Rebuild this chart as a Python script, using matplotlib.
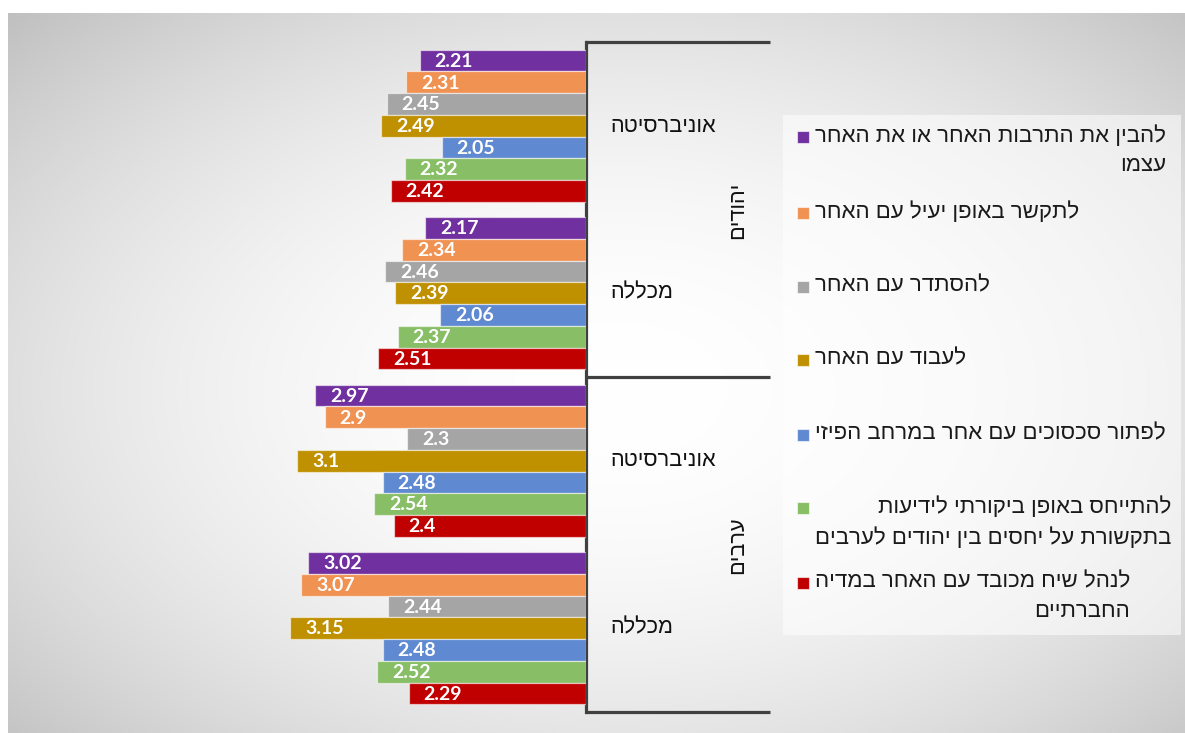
import numpy as np
import matplotlib
matplotlib.use("Agg")
import matplotlib.pyplot as plt
from matplotlib.patches import Rectangle
from matplotlib.lines import Line2D

# ---------------- data ----------------
outer_groups = ['יהודים', 'ערבים']
inner_groups = ['אוניברסיטה', 'מכללה']
series_names = [
    'להבין את התרבות האחר או את האחר\nעצמו',
    'לתקשר באופן יעיל עם האחר',
    'להסתדר עם האחר',
    'לעבוד עם האחר',
    'לפתור סכסוכים עם אחר במרחב הפיזי',
    'להתייחס באופן ביקורתי לידיעות\nבתקשורת על יחסים בין יהודים לערבים',
    'לנהל שיח מכובד עם האחר במדיה\nהחברתיים',
]
# categories order: Jews-University, Jews-College, Arabs-University, Arabs-College
s_understand = [2.21, 2.17, 2.97, 3.02]
s_communicate = [2.31, 2.34, 2.90, 3.07]
s_getalong = [2.45, 2.46, 2.30, 2.44]
s_work = [2.49, 2.39, 3.10, 3.15]
s_conflicts = [2.05, 2.06, 2.48, 2.48]
s_critical = [2.32, 2.37, 2.54, 2.52]
s_dialogue = [2.42, 2.51, 2.40, 2.29]
series_values = [s_understand, s_communicate, s_getalong, s_work,
                 s_conflicts, s_critical, s_dialogue]
colors = ['#7030A0', '#F09252', '#A5A5A5', '#BF9000', '#5F89D0', '#88BE66', '#C00000']

BASE = 1.0

def rtl(s):
    return '\n'.join(line[::-1] for line in s.split('\n'))

W, H = 1185, 733
fig = plt.figure(figsize=(W / 100, H / 100), dpi=100, facecolor='white')

def fx(px):
    return px / W

def fy(py):
    return 1 - py / H

HEB = ['Liberation Sans', 'DejaVu Sans']

# ---------------- background gradient ----------------
bx0, bx1, by0, by1 = 8, 1185, 13, 733
bg = fig.add_axes([fx(bx0), fy(by1), fx(bx1) - fx(bx0), fy(by0) - fy(by1)], zorder=-10)
gx = np.linspace(bx0, bx1, 400)
gy = np.linspace(by0, by1, 250)
XX, YY = np.meshgrid(gx, gy)
cx, cy = 620, 390
r2 = ((XX - cx) / 620) ** 2 + ((YY - cy) / 390) ** 2
g = np.clip(1.0 - 0.13 * r2, 0, 1)
bg.imshow(np.dstack([g, g, g]), aspect='auto', extent=[0, 1, 0, 1], origin='upper')
bg.axis('off')

# ---------------- main axes ----------------
ax_left_px, ax_right_px, ax_top_px, ax_bot_px = 20, 586, 42, 712
ax = fig.add_axes([fx(ax_left_px), fy(ax_bot_px), fx(ax_right_px) - fx(ax_left_px),
                   fy(ax_top_px) - fy(ax_bot_px)])
ax.patch.set_alpha(0)
scale = 137.5
ax.set_xlim(BASE + (ax_right_px - ax_left_px) / scale, BASE)
ax.set_ylim(4, 0)

n = len(series_values)
bw = 0.1296
centers = np.arange(4) + 0.5
for i, (vals, col) in enumerate(zip(series_values, colors)):
    ys = centers + (i - (n - 1) / 2) * bw
    vals = np.array(vals)
    ax.barh(ys, vals - BASE, left=BASE, height=bw, color=col,
            edgecolor=(1, 1, 1, 0.55), linewidth=0.9, zorder=3)
    for y, v in zip(ys, vals):
        ax.annotate(f"{v:g}", (v, y), xytext=(15 * 0.72, -0.5), textcoords='offset points',
                    ha='left', va='center', color='white', fontsize=14,
                    fontweight='bold', family=['Lato', 'DejaVu Sans'], zorder=4)

for sp in ['top', 'left', 'bottom']:
    ax.spines[sp].set_visible(False)
ax.spines['right'].set_color('#404040')
ax.spines['right'].set_linewidth(2.3)
ax.set_xticks([])
ax.set_yticks([])

# ---------------- multi-level category axis ----------------
line_kw = dict(color='#404040', linewidth=2.3, transform=fig.transFigure, solid_capstyle='butt')
for py in [42, 377, 712]:
    fig.add_artist(Line2D([fx(585), fx(770)], [fy(py), fy(py)], **line_kw))

inner_y = [126, 293, 461, 628]
for k, py in enumerate(inner_y):
    fig.text(fx(610), fy(py), rtl(inner_groups[k % 2]), ha='left', va='center',
             fontsize=15.7, family=HEB, color='#111111')
outer_y = [210, 545]
for k, py in enumerate(outer_y):
    fig.text(fx(738), fy(py), rtl(outer_groups[k]), ha='center', va='center',
             rotation=90, fontsize=15.7, family=HEB, color='#111111')

# ---------------- legend ----------------
fig.add_artist(Rectangle((fx(783), fy(635)), fx(1181) - fx(783), fy(115) - fy(635),
                         transform=fig.transFigure, facecolor=(1, 1, 1, 0.55),
                         edgecolor='none', zorder=1))
leg_y = [137, 213, 287, 360, 435, 508, 583]
for name, col, py in zip(series_names, colors, leg_y):
    fig.add_artist(Rectangle((fx(797), fy(py + 6)), fx(12), 12 / H,
                             transform=fig.transFigure, facecolor=col,
                             edgecolor=(1, 1, 1, 0.6), linewidth=0.8, zorder=2))
    fig.text(fx(815), fy(py - 12), rtl(name), ha='left', va='top', multialignment='right',
             fontsize=16, family=HEB, color='#1a1a1a', linespacing=1.55, zorder=3)

fig.savefig('out.png', dpi=100, facecolor='white')
